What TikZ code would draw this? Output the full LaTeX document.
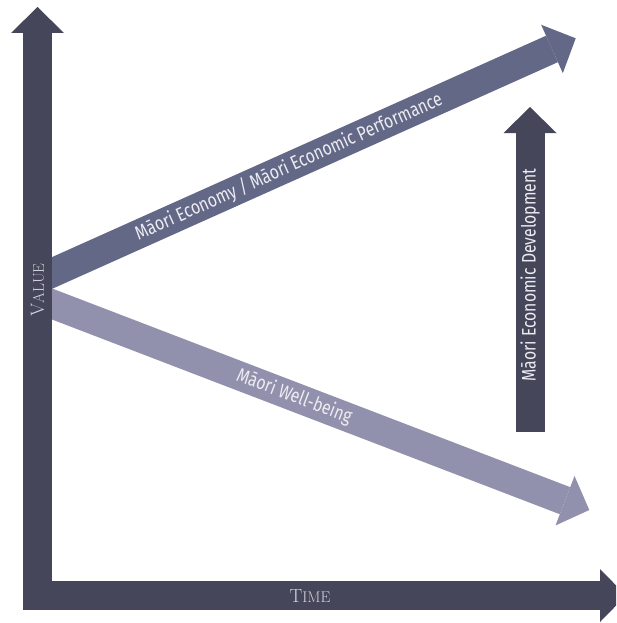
\documentclass[tikz,border=0pt]{standalone}
\usepackage{fontspec}
\usetikzlibrary{arrows.meta}
\newfontfamily\labelfont{Fira Sans}
% narrow setting of the band labels
\newcommand{\narrowtext}[1]{\scalebox{0.81}[1]{#1}}

\definecolor{axiscol}{RGB}{69,70,90}
\definecolor{econcol}{RGB}{99,104,135}
\definecolor{wellcol}{RGB}{145,145,173}
\definecolor{labelcol}{RGB}{236,236,242}
\definecolor{capscol}{RGB}{212,212,220}

\begin{document}
\begin{tikzpicture}[x=1pt,y=-1pt,
  bigtip/.tip={Triangle[length=26pt,width=53pt,line width=0pt]},
  blockarrow/.style={line width=29pt, line cap=butt, -{bigtip}},
  axisarrow/.style={line width=29pt, line cap=butt, line join=miter, color=axiscol, {bigtip}-{bigtip}},
  bandlabel/.style={text=labelcol, inner sep=0pt, font=\labelfont\fontsize{19.5pt}{19.5pt}\selectfont},
  axislabel/.style={text=capscol, inner sep=0pt}]

\useasboundingbox (0,0) rectangle (616,623);
\clip (0,0) rectangle (616,623);

% anchor points of the block arrows
\coordinate (origin)    at (37.5,595.5);
\coordinate (valueTip)  at (37.5,7);
\coordinate (timeTip)   at (626,595.5);
\coordinate (econStart) at (37.5,279.5);
\coordinate (econTip)   at (575.7,38.3);
\coordinate (wellStart) at (37.5,298.4);
\coordinate (wellTip)   at (589.3,510);
\coordinate (devStart)  at (530,432);
\coordinate (devTip)    at (530,107);

% diverging trends
\draw[blockarrow, color=econcol] (econStart) -- (econTip)
  node[bandlabel, pos=0.467, sloped] (econLabel) {\narrowtext{Māori Economy / Māori Economic Performance}};
\draw[blockarrow, color=wellcol] (wellStart) -- (wellTip)
  node[bandlabel, pos=0.465, sloped] (wellLabel) {\narrowtext{Māori Well-being}};

% development arrow
\draw[blockarrow, color=axiscol] (devStart) -- (devTip);
\node[bandlabel, rotate=90] (devLabel) at (530,275) {\narrowtext{Māori Economic Development}};

% axes
\draw[axisarrow] (valueTip) -- (origin) -- (timeTip);
\node[axislabel, rotate=90] (valueLabel) at (37.5,290)
  {{\fontsize{19pt}{19pt}\selectfont V}{\fontsize{15.5pt}{15.5pt}\selectfont ALUE}};
\node[axislabel] (timeLabel) at (310,596)
  {{\fontsize{19pt}{19pt}\selectfont T}{\fontsize{15.5pt}{15.5pt}\selectfont IME}};

\end{tikzpicture}
\end{document}
